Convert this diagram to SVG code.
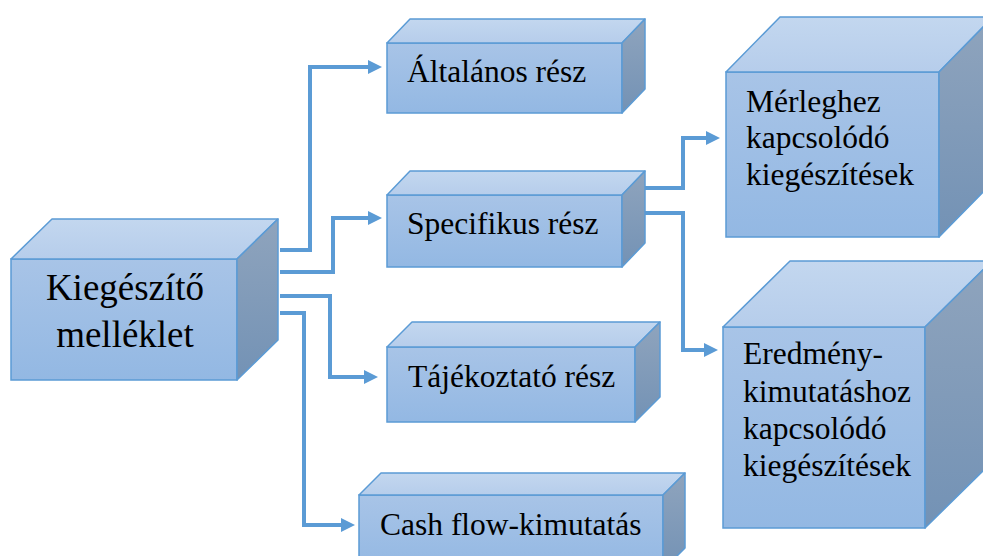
<svg xmlns="http://www.w3.org/2000/svg" width="983" height="556" viewBox="0 0 983 556">
<defs>
<linearGradient id="gf" x1="0" y1="0" x2="0" y2="1"><stop offset="0" stop-color="#a8c4e7"/><stop offset="1" stop-color="#93b8e3"/></linearGradient>
<linearGradient id="gt" x1="0" y1="0" x2="0" y2="1"><stop offset="0" stop-color="#c3d7ef"/><stop offset="1" stop-color="#b6cdeb"/></linearGradient>
<linearGradient id="gs" x1="0" y1="0" x2="0" y2="1"><stop offset="0" stop-color="#8fa4bd"/><stop offset="1" stop-color="#7392b5"/></linearGradient>
<marker id="ah" markerUnits="userSpaceOnUse" markerWidth="14" markerHeight="14" viewBox="0 0 14 14" refX="0" refY="7" orient="auto"><path d="M0,0 L14,7 L0,14 Z" fill="#5b9bd5"/></marker>
<style>
.f{fill:url(#gf);stroke:#5b9bd5;stroke-width:1.5}
.t{fill:url(#gt);stroke:#5b9bd5;stroke-width:1.5;stroke-linejoin:round}
.s{fill:url(#gs);stroke:#5b9bd5;stroke-width:1.5;stroke-linejoin:round}
.c{fill:none;stroke:#5b9bd5;stroke-width:4;marker-end:url(#ah)}
.l{font-size:37px;text-anchor:middle}
.m{font-size:31.5px}
</style>
</defs>
<g id="connectors">
<path class="c" d="M280,250 H310 V67 H368"/>
<path class="c" d="M280,272 H333 V218 H368"/>
<path class="c" d="M280,296 H330 V377 H364"/>
<path class="c" d="M280,313 H304 V525 H341"/>
<path class="c" d="M645,188 H683 V138 H706"/>
<path class="c" d="M645,213 H683 V350 H704"/>
</g>
<g font-family="Liberation Serif, Tinos, Noto Serif, DejaVu Serif, Times New Roman, Times, serif" fill="#000">
<g id="kiegeszito">
<rect class="f" x="11" y="259" width="226" height="121"/>
<polygon class="t" points="11,259 52,219 278,219 237,259"/>
<polygon class="s" points="237,259 278,219 278,340 237,380"/>
<text class="l" x="125" y="300">Kiegészítő</text>
<text class="l" x="125" y="347">melléklet</text>
</g>
<g id="altalanos">
<rect class="f" x="387" y="43" width="235" height="70"/>
<polygon class="t" points="387,43 410,19 645,19 622,43"/>
<polygon class="s" points="622,43 645,19 645,89 622,113"/>
<text class="m" x="407" y="82">Általános rész</text>
</g>
<g id="specifikus">
<rect class="f" x="387" y="195" width="235" height="72"/>
<polygon class="t" points="387,195 410,171 645,171 622,195"/>
<polygon class="s" points="622,195 645,171 645,243 622,267"/>
<text class="m" x="407" y="234">Specifikus rész</text>
</g>
<g id="tajekoztato">
<rect class="f" x="387" y="347" width="248" height="75"/>
<polygon class="t" points="387,347 412,322 660,322 635,347"/>
<polygon class="s" points="635,347 660,322 660,397 635,422"/>
<text class="m" x="408" y="387">Tájékoztató rész</text>
</g>
<g id="cashflow">
<rect class="f" x="359" y="495" width="304" height="75"/>
<polygon class="t" points="359,495 381,473 685,473 663,495"/>
<polygon class="s" points="663,495 685,473 685,548 663,570"/>
<text class="m" x="380" y="535">Cash flow-kimutatás</text>
</g>
<g id="merleghez">
<rect class="f" x="726" y="72" width="213" height="165"/>
<polygon class="t" points="726,72 780,17 993,17 939,72"/>
<polygon class="s" points="939,72 993,17 993,182 939,237"/>
<text class="m" x="746" y="112">Mérleghez</text>
<text class="m" x="746" y="148">kapcsolódó</text>
<text class="m" x="746" y="185">kiegészítések</text>
</g>
<g id="eredmeny">
<rect class="f" x="723" y="327" width="202" height="201"/>
<polygon class="t" points="723,327 790,261 992,261 925,327"/>
<polygon class="s" points="925,327 992,261 992,462 925,528"/>
<text class="m" x="743" y="364">Eredmény-</text>
<text class="m" x="743" y="402">kimutatáshoz</text>
<text class="m" x="743" y="439">kapcsolódó</text>
<text class="m" x="743" y="476">kiegészítések</text>
</g>
</g>
</svg>
